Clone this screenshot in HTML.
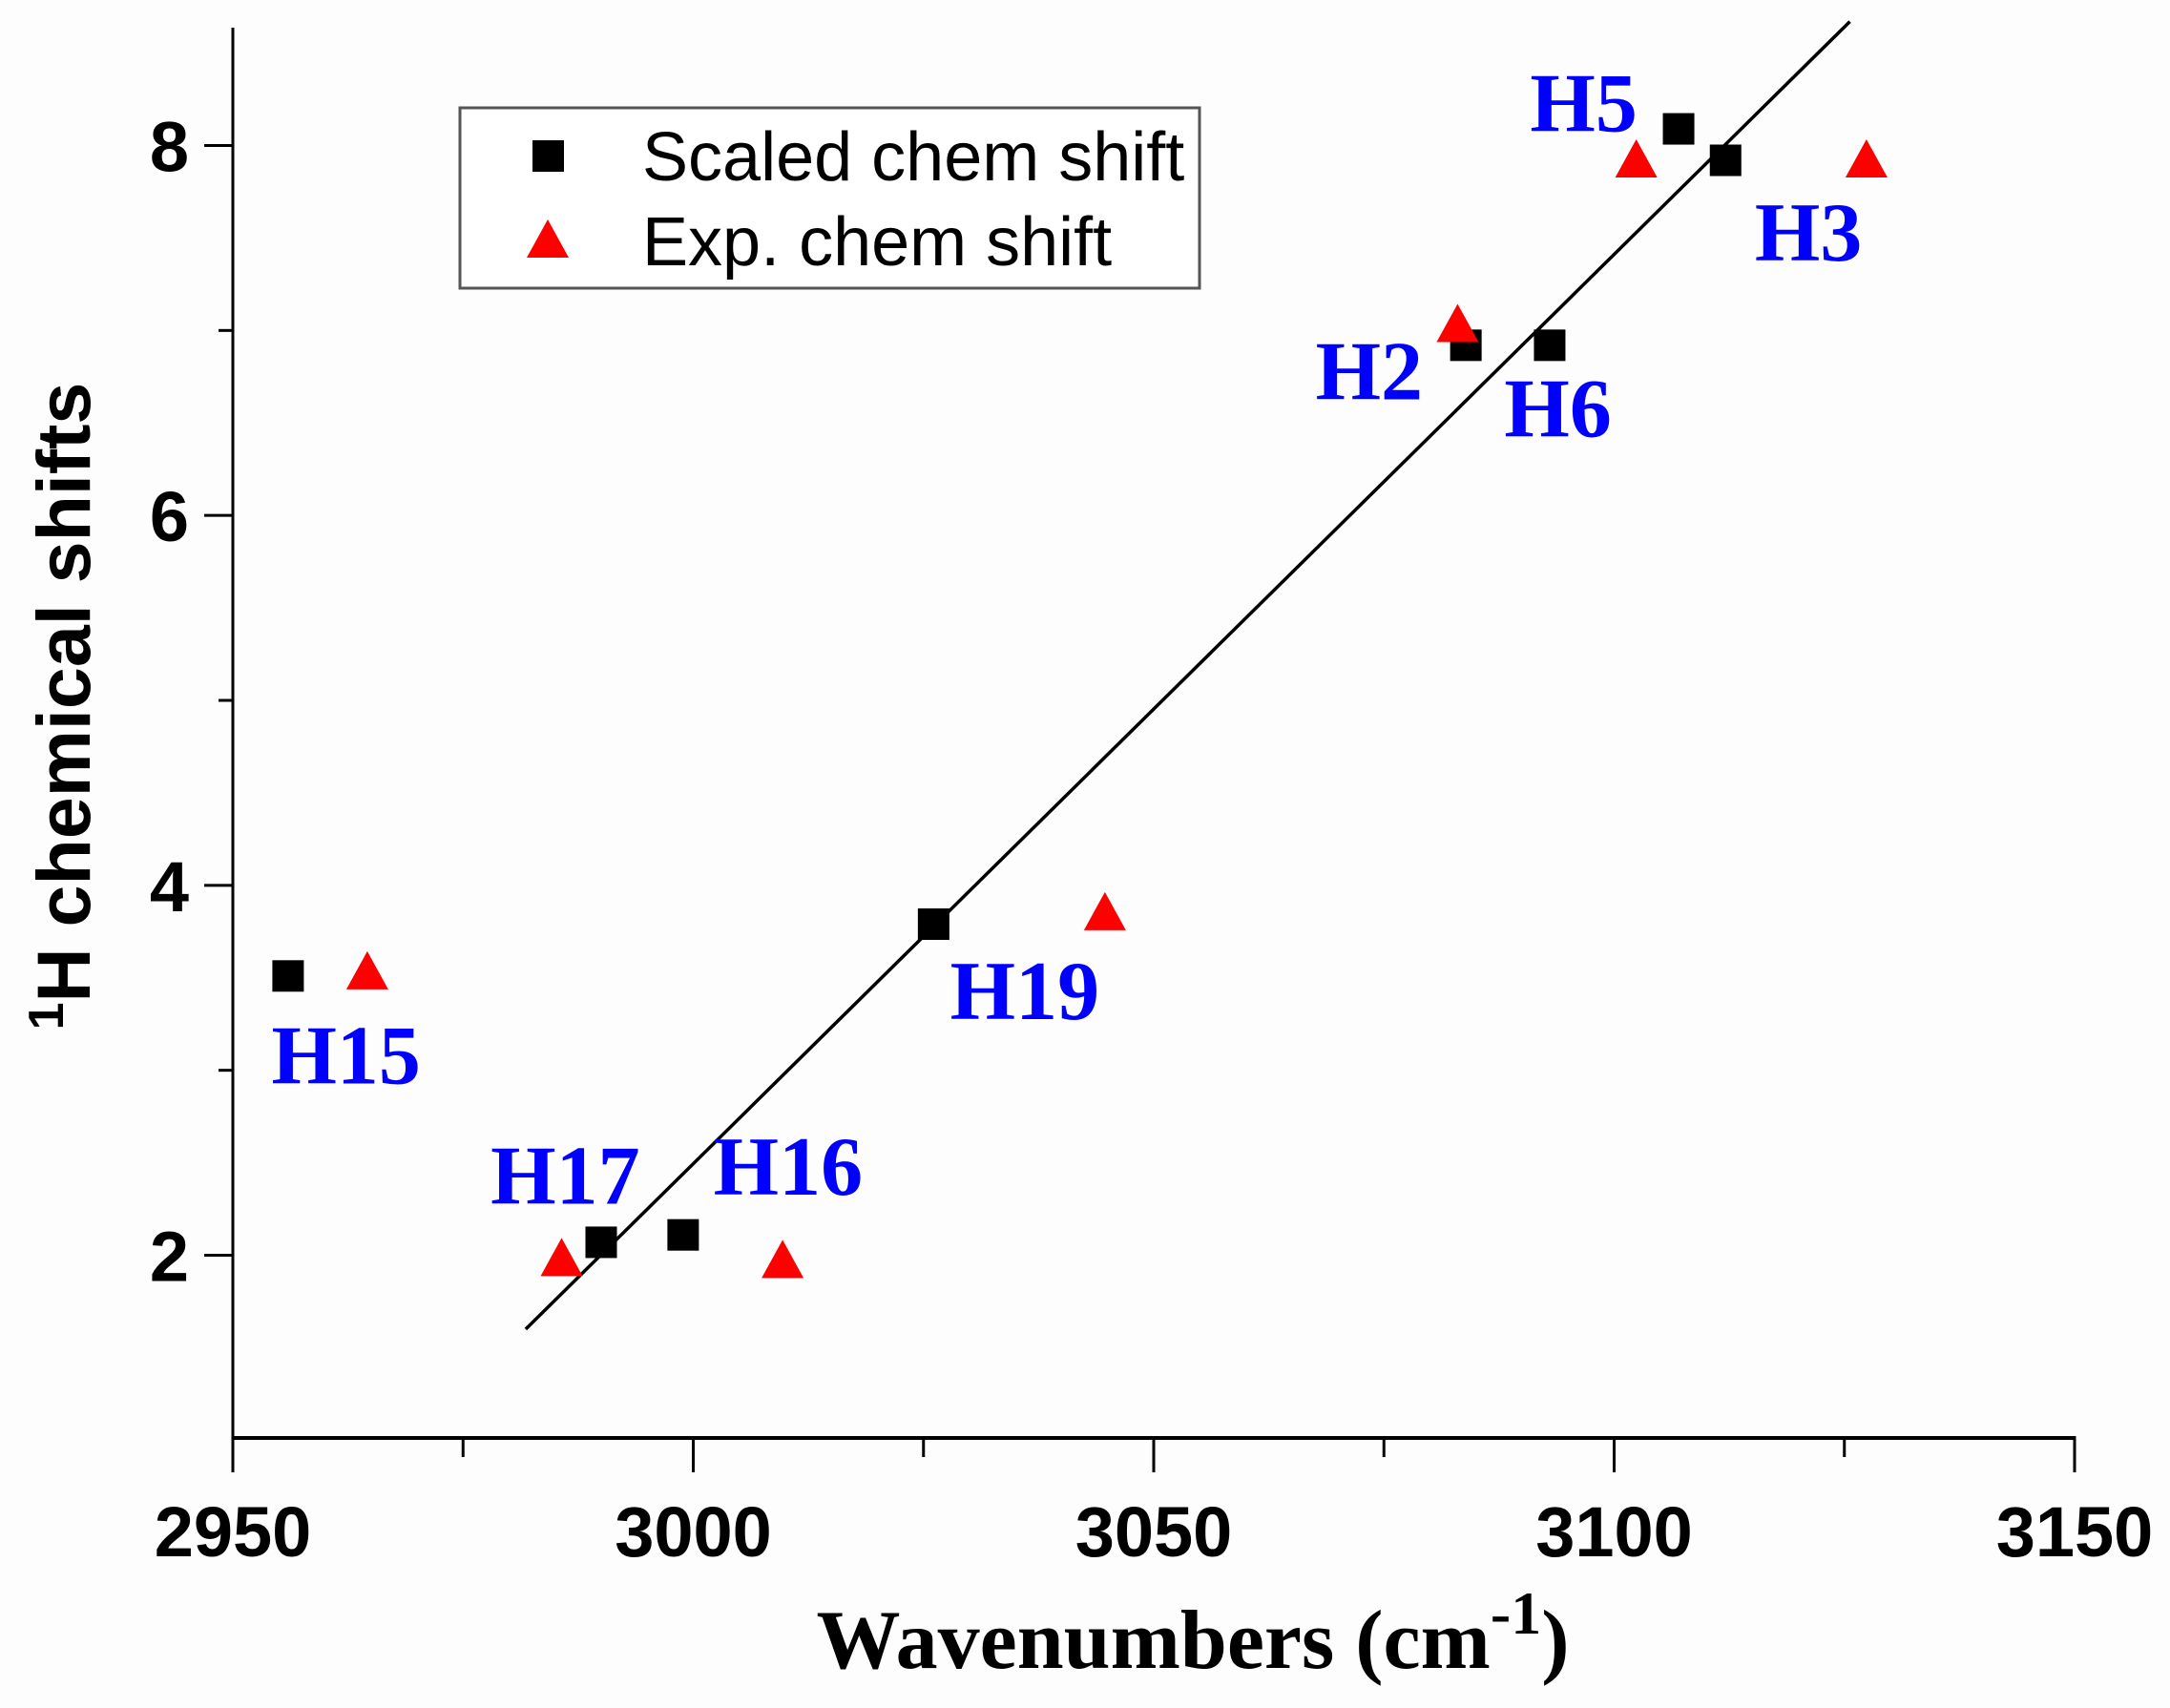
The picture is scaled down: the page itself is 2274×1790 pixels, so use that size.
<!DOCTYPE html>
<html><head><meta charset="utf-8"><style>
html,body{margin:0;padding:0;background:#fdfdfd;}
svg{display:block;}
</style></head><body>
<svg id="chart" width="2274" height="1790" viewBox="0 0 2274 1790" xmlns="http://www.w3.org/2000/svg"></svg>
<script>
const scaledX = [2956.0, 2990.0, 2998.9, 3026.1, 3083.9, 3093.0, 3107.0, 3112.1];
const scaledY = [3.51, 2.07, 2.11, 3.79, 6.92, 6.92, 8.09, 7.92];
const expX = [2964.6, 2985.7, 3009.7, 3044.7, 3083.0, 3102.4, 3127.4];
const expY = [3.53, 1.98, 1.97, 3.85, 7.03, 7.92, 7.92];
const fitX = [2981.8, 3125.6];
const fitY = [1.60, 8.67];
const xTicks = [2950, 3000, 3050, 3100, 3150];
const xMinor = [2975, 3025, 3075, 3125];
const yTicks = [2, 4, 6, 8];
const yMinor = [3, 5, 7];
const labelText = ["H5", "H3", "H2", "H6", "H19", "H15", "H17", "H16"];
const labelX = [3096.7, 3121.1, 3073.4, 3093.9, 3036.0, 2962.3, 2986.1, 3010.3];
const labelY = [8.0, 7.3, 6.55, 6.35, 3.2, 2.85, 2.2, 2.25];

const NS = "http://www.w3.org/2000/svg";
const svg = document.getElementById("chart");
const X0 = 244, X1 = 2174, Y2 = 1315.5, Y8 = 152.5;
const xs = v => X0 + (v - 2950) / 200 * (X1 - X0);
const ys = v => Y2 - (v - 2) / 6 * (Y2 - Y8);
const yAxisBottom = 1507, yAxisTop = 29;

function mk(tag, attrs, text) {
  const e = document.createElementNS(NS, tag);
  for (const k in attrs) e.setAttribute(k, attrs[k]);
  if (text !== undefined) e.textContent = text;
  svg.appendChild(e);
  return e;
}

let e = mk("line", {x1: X0, y1: yAxisTop, x2: X0, y2: yAxisBottom + 1.5, stroke: "#000", "stroke-width": 3});


e = mk("line", {x1: X0 - 1.5, y1: yAxisBottom, x2: X1 + 1.5, y2: yAxisBottom, stroke: "#000", "stroke-width": 4});



xTicks.forEach(v => {
  const t = mk("line", {x1: xs(v), y1: yAxisBottom, x2: xs(v), y2: yAxisBottom + 36, stroke: "#000", "stroke-width": 3});
  
  
  const l = mk("text", {x: xs(v), y: yAxisBottom + 124, "text-anchor": "middle", "font-family": "Liberation Sans, sans-serif", "font-weight": "bold", "font-size": 74}, String(v));
  
  
});
xMinor.forEach(v => {
  const t = mk("line", {x1: xs(v), y1: yAxisBottom, x2: xs(v), y2: yAxisBottom + 20, stroke: "#000", "stroke-width": 3});
  
  
});
yTicks.forEach(v => {
  const t = mk("line", {x1: X0 - 30, y1: ys(v), x2: X0, y2: ys(v), stroke: "#000", "stroke-width": 3});
  
  
  const l = mk("text", {x: X0 - 46, y: ys(v) + 27, "text-anchor": "end", "font-family": "Liberation Sans, sans-serif", "font-weight": "bold", "font-size": 74}, String(v));
  
  
});
yMinor.forEach(v => {
  const t = mk("line", {x1: X0 - 15, y1: ys(v), x2: X0, y2: ys(v), stroke: "#000", "stroke-width": 3});
  
  
});

e = mk("text", {x: 1250, y: 1748, "text-anchor": "middle", "font-family": "Liberation Serif, serif", "font-weight": "bold", "font-size": 88}, "");


e.innerHTML = 'Wavenumbers (cm<tspan dy="-36" font-size="64">-1</tspan><tspan dy="36">)</tspan>';
e = mk("text", {transform: "translate(94,740) rotate(-90)", "text-anchor": "middle", "font-family": "Liberation Sans, sans-serif", "font-weight": "bold", "font-size": 79}, "");


e.innerHTML = '<tspan dy="-28" font-size="52">1</tspan><tspan dy="28">H chemical shifts</tspan>';

e = mk("line", {x1: xs(fitX[0]), y1: ys(fitY[0]), x2: xs(fitX[1]), y2: ys(fitY[1]), stroke: "#000", "stroke-width": 3.5});



scaledX.forEach((v, i) => {
  const s = mk("rect", {x: xs(v) - 16.5, y: ys(scaledY[i]) - 16.5, width: 33, height: 33, fill: "#000"});
  
  
});
function tri(cx, cy) {
  return `${cx - 22},${cy + 18} ${cx + 22},${cy + 18} ${cx},${cy - 22}`;
}
expX.forEach((v, i) => {
  const t = mk("polygon", {points: tri(xs(v), ys(expY[i])), fill: "#ff0000"});
  
  
});

labelText.forEach((s, i) => {
  const l = mk("text", {x: xs(labelX[i]), y: ys(labelY[i]) - 15, "text-anchor": "middle", "font-family": "Liberation Serif, serif", "font-weight": "bold", "font-size": 88, fill: "#0000ff"}, s);
  
  
});

e = mk("rect", {x: 482, y: 113, width: 775, height: 189, fill: "#fff", stroke: "#555", "stroke-width": 3});


e = mk("rect", {x: 558, y: 147, width: 33, height: 33, fill: "#000"});


e = mk("text", {x: 673, y: 189, "font-family": "Liberation Sans, sans-serif", "font-size": 72}, "Scaled chem shift");


e = mk("polygon", {points: tri(574, 252), fill: "#ff0000"});


e = mk("text", {x: 673, y: 278, "font-family": "Liberation Sans, sans-serif", "font-size": 72}, "Exp. chem shift");


</script>
</body></html>
